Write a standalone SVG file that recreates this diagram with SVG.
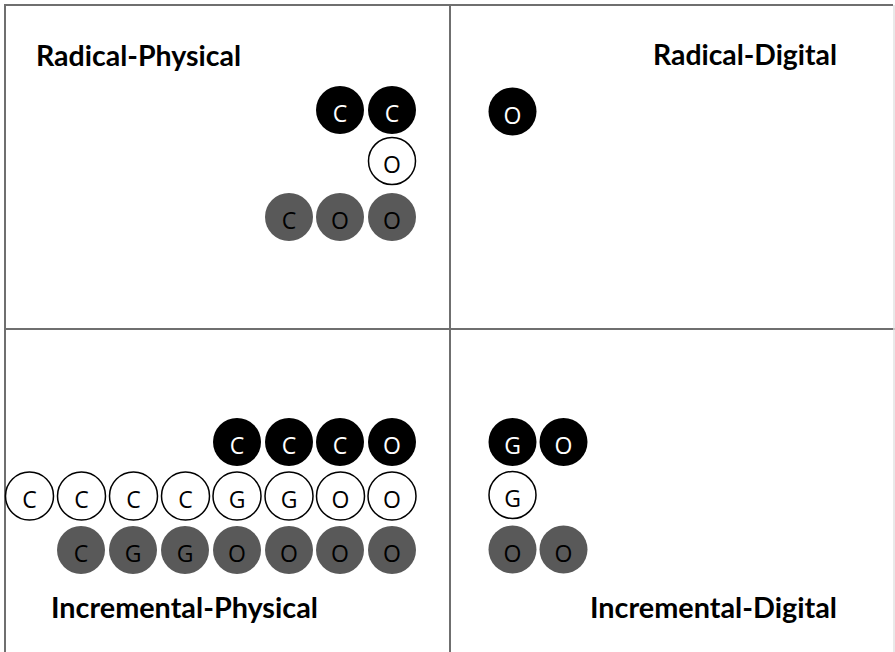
<svg xmlns="http://www.w3.org/2000/svg" width="895" height="652" viewBox="0 0 895 652">
<style>
.frame{stroke:#6f6f6f;stroke-width:2;fill:none}
.faint{stroke:#e2e2e2;stroke-width:1.5;fill:none}
.lbl{font-family:Lato,"Open Sans","Liberation Sans",sans-serif;font-weight:bold;font-size:28px;fill:#000}
.blk circle{fill:#000}
.blk text{fill:#fff}
.wht circle{fill:#fff;stroke:#000;stroke-width:1.5}
.wht text{fill:#000}
.gry circle{fill:#595959}
.gry text{fill:#000}
.n text{font-family:"Open Sans","Liberation Sans",sans-serif;font-size:23px;text-anchor:middle}
</style>
<rect width="895" height="652" fill="#fff"/>
<g id="frame">
<line class="frame" x1="5" y1="5" x2="893" y2="5"/>
<line class="frame" x1="5" y1="4" x2="5" y2="652"/>
<line class="frame" x1="450" y1="5" x2="450" y2="652"/>
<line class="frame" x1="5" y1="329" x2="895" y2="329"/>
<line class="faint" x1="894" y1="5" x2="894" y2="652"/>
</g>
<g id="labels">
<text class="lbl" x="36" y="66" textLength="205" lengthAdjust="spacingAndGlyphs">Radical-Physical</text>
<text class="lbl" x="653" y="65" textLength="184" lengthAdjust="spacingAndGlyphs">Radical-Digital</text>
<text class="lbl" x="51" y="618" textLength="267" lengthAdjust="spacingAndGlyphs">Incremental-Physical</text>
<text class="lbl" x="590" y="618" textLength="247" lengthAdjust="spacingAndGlyphs">Incremental-Digital</text>
</g>
<g id="radical-physical">
<g id="rp1" class="n blk"><circle cx="340" cy="110" r="24"/><text x="340" y="122">C</text></g>
<g id="rp2" class="n blk"><circle cx="392" cy="110" r="24"/><text x="392" y="122">C</text></g>
<g id="rp3" class="n wht"><circle cx="392" cy="161" r="23.5"/><text x="392" y="173">O</text></g>
<g id="rp4" class="n gry"><circle cx="289" cy="217" r="24"/><text x="289" y="229">C</text></g>
<g id="rp5" class="n gry"><circle cx="340" cy="217" r="24"/><text x="340" y="229">O</text></g>
<g id="rp6" class="n gry"><circle cx="392" cy="217" r="24"/><text x="392" y="229">O</text></g>
</g>
<g id="radical-digital">
<g id="rd1" class="n blk"><circle cx="512.5" cy="111.5" r="24"/><text x="512.5" y="123.5">O</text></g>
</g>
<g id="incremental-physical">
<g id="ip1" class="n blk"><circle cx="237" cy="442" r="24"/><text x="237" y="454">C</text></g>
<g id="ip2" class="n blk"><circle cx="289" cy="442" r="24"/><text x="289" y="454">C</text></g>
<g id="ip3" class="n blk"><circle cx="340" cy="442" r="24"/><text x="340" y="454">C</text></g>
<g id="ip4" class="n blk"><circle cx="392" cy="442" r="24"/><text x="392" y="454">O</text></g>
<g id="ip5" class="n wht"><circle cx="29.5" cy="496" r="24"/><text x="29.5" y="508">C</text></g>
<g id="ip6" class="n wht"><circle cx="81.5" cy="496" r="24"/><text x="81.5" y="508">C</text></g>
<g id="ip7" class="n wht"><circle cx="133.5" cy="496" r="24"/><text x="133.5" y="508">C</text></g>
<g id="ip8" class="n wht"><circle cx="185.5" cy="496" r="24"/><text x="185.5" y="508">C</text></g>
<g id="ip9" class="n wht"><circle cx="237" cy="496" r="24"/><text x="237" y="508">G</text></g>
<g id="ip10" class="n wht"><circle cx="289" cy="496" r="24"/><text x="289" y="508">G</text></g>
<g id="ip11" class="n wht"><circle cx="340.5" cy="496" r="24"/><text x="340.5" y="508">O</text></g>
<g id="ip12" class="n wht"><circle cx="392" cy="496" r="24"/><text x="392" y="508">O</text></g>
<g id="ip13" class="n gry"><circle cx="81" cy="550" r="24"/><text x="81" y="562">C</text></g>
<g id="ip14" class="n gry"><circle cx="133" cy="550" r="24"/><text x="133" y="562">G</text></g>
<g id="ip15" class="n gry"><circle cx="185" cy="550" r="24"/><text x="185" y="562">G</text></g>
<g id="ip16" class="n gry"><circle cx="237" cy="550" r="24"/><text x="237" y="562">O</text></g>
<g id="ip17" class="n gry"><circle cx="289" cy="550" r="24"/><text x="289" y="562">O</text></g>
<g id="ip18" class="n gry"><circle cx="340" cy="550" r="24"/><text x="340" y="562">O</text></g>
<g id="ip19" class="n gry"><circle cx="392" cy="550" r="24"/><text x="392" y="562">O</text></g>
</g>
<g id="incremental-digital">
<g id="id1" class="n blk"><circle cx="512.5" cy="442" r="24"/><text x="512.5" y="454">G</text></g>
<g id="id2" class="n blk"><circle cx="563.5" cy="442" r="24"/><text x="563.5" y="454">O</text></g>
<g id="id3" class="n wht"><circle cx="512.5" cy="495" r="23.5"/><text x="512.5" y="507">G</text></g>
<g id="id4" class="n gry"><circle cx="512.5" cy="549.5" r="24"/><text x="512.5" y="561.5">O</text></g>
<g id="id5" class="n gry"><circle cx="563.5" cy="549.5" r="24"/><text x="563.5" y="561.5">O</text></g>
</g>
<g id="connectors"/>
</svg>
